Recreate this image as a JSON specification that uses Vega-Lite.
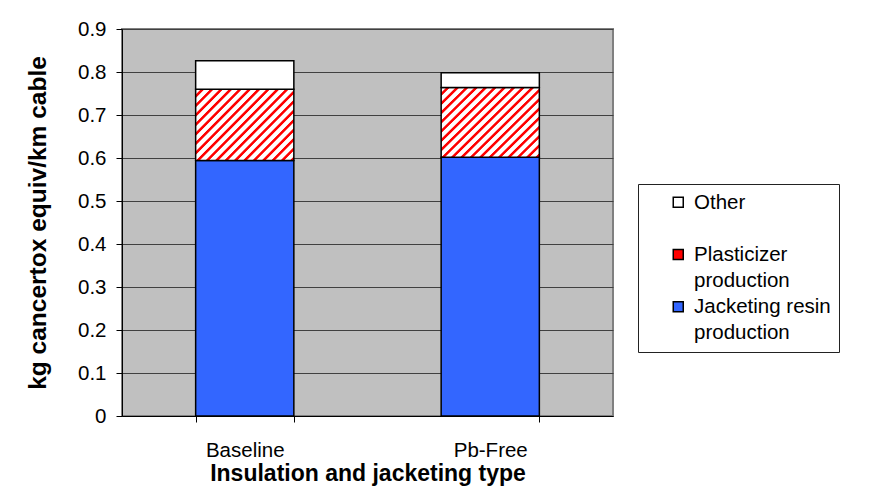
{
  "$schema": "https://vega.github.io/schema/vega-lite/v6.json",
  "width": 491,
  "height": 387,
  "autosize": {"type": "none"},
  "padding": {"left": 122, "top": 29, "right": 259, "bottom": 80},
  "background": "white",
  "data": {
    "values": [
      {"type": "Baseline", "component": "Jacketing resin production", "ord": 1, "value": 0.594},
      {"type": "Baseline", "component": "Plasticizer production", "ord": 2, "value": 0.166},
      {"type": "Baseline", "component": "Other", "ord": 3, "value": 0.066},
      {"type": "Pb-Free", "component": "Jacketing resin production", "ord": 1, "value": 0.602},
      {"type": "Pb-Free", "component": "Plasticizer production", "ord": 2, "value": 0.162},
      {"type": "Pb-Free", "component": "Other", "ord": 3, "value": 0.034}
    ]
  },
  "mark": {"type": "bar", "stroke": "black", "strokeWidth": 1.5},
  "encoding": {
    "x": {
      "field": "type",
      "type": "nominal",
      "sort": ["Baseline", "Pb-Free"],
      "scale": {"paddingInner": 0.6, "paddingOuter": 0.3},
      "axis": {
        "title": "Insulation and jacketing type",
        "labelAngle": 0,
        "tickBand": "extent",
        "tickSize": 6,
        "tickColor": "black",
        "domainColor": "black",
        "labelPadding": 18,
        "labelFontSize": 20.5,
        "labelColor": "black",
        "titleFontSize": 23,
        "titleFontWeight": "bold",
        "titleColor": "black",
        "titlePadding": 2,
        "grid": false
      }
    },
    "y": {
      "field": "value",
      "type": "quantitative",
      "stack": "zero",
      "scale": {"domain": [0, 0.9], "nice": false},
      "axis": {
        "title": "kg cancertox equiv/km cable",
        "values": [0, 0.1, 0.2, 0.3, 0.4, 0.5, 0.6, 0.7, 0.8, 0.9],
        "format": "~g",
        "tickSize": 6,
        "tickColor": "black",
        "domainColor": "black",
        "labelPadding": 10,
        "labelFontSize": 20.5,
        "labelColor": "black",
        "titleFontSize": 24.5,
        "titleFontWeight": "bold",
        "titleColor": "black",
        "titlePadding": 27,
        "grid": true,
        "gridColor": "#404040",
        "gridWidth": 1
      }
    },
    "order": {"field": "ord", "type": "quantitative"},
    "fill": {
      "condition": {
        "test": "datum.component === 'Plasticizer production'",
        "value": {
          "gradient": "linear", "x1": 0, "y1": 0, "x2": 1.133, "y2": 0.816,
          "stops": [
            {"offset": 0, "color": "white"}, {"offset": 0.0278, "color": "white"}, {"offset": 0.0344, "color": "red"}, {"offset": 0.0489, "color": "red"},
            {"offset": 0.0556, "color": "white"}, {"offset": 0.0833, "color": "white"}, {"offset": 0.0900, "color": "red"}, {"offset": 0.1044, "color": "red"},
            {"offset": 0.1111, "color": "white"}, {"offset": 0.1389, "color": "white"}, {"offset": 0.1456, "color": "red"}, {"offset": 0.1600, "color": "red"},
            {"offset": 0.1667, "color": "white"}, {"offset": 0.1944, "color": "white"}, {"offset": 0.2011, "color": "red"}, {"offset": 0.2156, "color": "red"},
            {"offset": 0.2222, "color": "white"}, {"offset": 0.2500, "color": "white"}, {"offset": 0.2567, "color": "red"}, {"offset": 0.2711, "color": "red"},
            {"offset": 0.2778, "color": "white"}, {"offset": 0.3056, "color": "white"}, {"offset": 0.3122, "color": "red"}, {"offset": 0.3267, "color": "red"},
            {"offset": 0.3333, "color": "white"}, {"offset": 0.3611, "color": "white"}, {"offset": 0.3678, "color": "red"}, {"offset": 0.3822, "color": "red"},
            {"offset": 0.3889, "color": "white"}, {"offset": 0.4167, "color": "white"}, {"offset": 0.4233, "color": "red"}, {"offset": 0.4378, "color": "red"},
            {"offset": 0.4444, "color": "white"}, {"offset": 0.4722, "color": "white"}, {"offset": 0.4789, "color": "red"}, {"offset": 0.4933, "color": "red"},
            {"offset": 0.5000, "color": "white"}, {"offset": 0.5278, "color": "white"}, {"offset": 0.5344, "color": "red"}, {"offset": 0.5489, "color": "red"},
            {"offset": 0.5556, "color": "white"}, {"offset": 0.5833, "color": "white"}, {"offset": 0.5900, "color": "red"}, {"offset": 0.6044, "color": "red"},
            {"offset": 0.6111, "color": "white"}, {"offset": 0.6389, "color": "white"}, {"offset": 0.6456, "color": "red"}, {"offset": 0.6600, "color": "red"},
            {"offset": 0.6667, "color": "white"}, {"offset": 0.6944, "color": "white"}, {"offset": 0.7011, "color": "red"}, {"offset": 0.7156, "color": "red"},
            {"offset": 0.7222, "color": "white"}, {"offset": 0.7500, "color": "white"}, {"offset": 0.7567, "color": "red"}, {"offset": 0.7711, "color": "red"},
            {"offset": 0.7778, "color": "white"}, {"offset": 0.8056, "color": "white"}, {"offset": 0.8122, "color": "red"}, {"offset": 0.8267, "color": "red"},
            {"offset": 0.8333, "color": "white"}, {"offset": 0.8611, "color": "white"}, {"offset": 0.8678, "color": "red"}, {"offset": 0.8822, "color": "red"},
            {"offset": 0.8889, "color": "white"}, {"offset": 0.9167, "color": "white"}, {"offset": 0.9233, "color": "red"}, {"offset": 0.9378, "color": "red"},
            {"offset": 0.9444, "color": "white"}, {"offset": 0.9722, "color": "white"}, {"offset": 0.9789, "color": "red"}, {"offset": 0.9933, "color": "red"},
            {"offset": 1, "color": "white"}
          ]
        }
      },
      "field": "component",
      "type": "nominal",
      "scale": {
        "domain": ["Other", "Plasticizer production", "Jacketing resin production"],
        "range": ["white", "red", "#3366FF"]
      },
      "legend": {
        "title": null,
        "orient": "none",
        "legendX": 516,
        "legendY": 155,
        "padding": 8,
        "fillColor": "white",
        "strokeColor": "#222222",
        "symbolType": "square",
        "symbolSize": 100,
        "symbolStrokeColor": "black",
        "symbolStrokeWidth": 1.5,
        "symbolOffset": 22,
        "labelOffset": 5.5,
        "labelFontSize": 20.5,
        "labelColor": "black",
        "labelLimit": 300,
        "labelBaseline": "alphabetic",
        "rowPadding": 4.2,
        "labelExpr": "datum.value === 'Plasticizer production' ? ['Plasticizer', 'production'] : datum.value === 'Jacketing resin production' ? ['Jacketing resin', 'production'] : ['Other', ' ']",
        "encode": {
          "labels": {"update": {"dy": {"value": 6.5}, "lineHeight": {"value": 26.3}}},
          "symbols": {
            "update": {
              "stroke": {"value": "black"},
              "strokeWidth": {"value": 1.5}
            }
          }
        }
      }
    }
  },
  "config": {
    "font": "Liberation Sans",
    "view": {"fill": "#C0C0C0", "stroke": "#808080", "strokeWidth": 2},
    "axis": {"domainWidth": 1, "tickWidth": 1}
  }
}
